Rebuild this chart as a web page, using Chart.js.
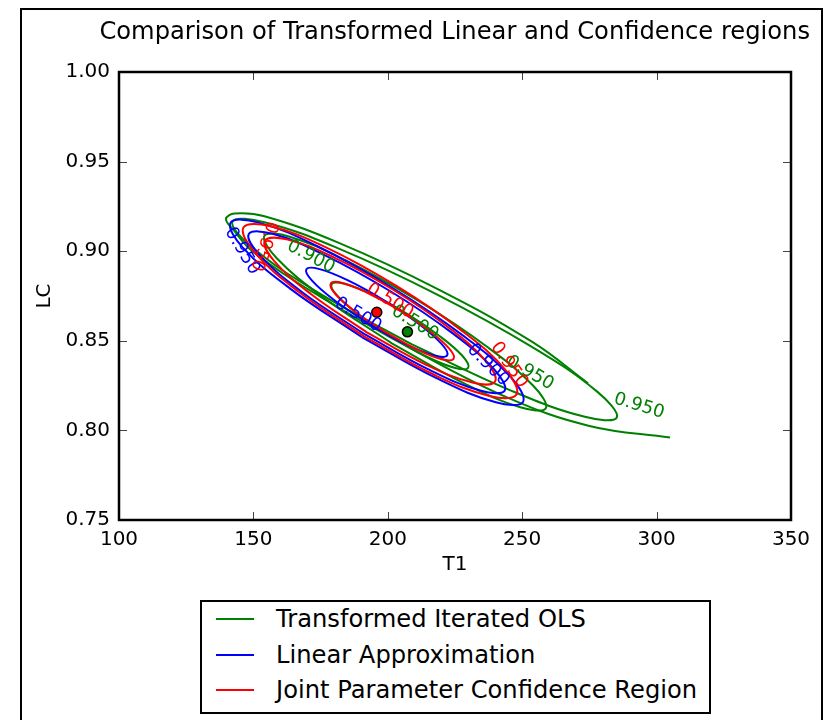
<!DOCTYPE html>
<html>
<head>
  <meta charset="utf-8">
  <title>Comparison of Transformed Linear and Confidence regions</title>
  <style>
    body { margin: 0; background: #fff; font-family: 'DejaVu Sans'; }
    #frame {
      position: absolute; left: 20px; top: 8px;
      width: 803px; height: 730px;
      border: 2px solid #000; box-sizing: border-box;
    }
    #chart { position: absolute; left: 0; top: 0; }
    #legend {
      position: absolute; left: 200px; top: 600px;
      width: 511px; height: 114px;
      border: 2.5px solid #000; box-sizing: border-box;
      background: #fff;
    }
    .row { position: absolute; left: 0; height: 30px; font-size: 24.2px; line-height: 30px; color: #000; }
    .row span.ln { position: absolute; left: 14px; top: 14px; width: 38px; height: 2.5px; }
    .row span.tx { position: absolute; left: 74px; white-space: nowrap; }
  </style>
</head>
<body>
  <div id="frame"></div>
  <canvas id="chart" width="825" height="590"></canvas>
  <div id="legend">
    <div class="row" style="top:1.5px"><span class="ln" style="background:#008000"></span><span class="tx">Transformed Iterated OLS</span></div>
    <div class="row" style="top:37.5px"><span class="ln" style="background:#0000ff"></span><span class="tx">Linear Approximation</span></div>
    <div class="row" style="top:72.5px"><span class="ln" style="background:#ff0000"></span><span class="tx">Joint Parameter Confidence Region</span></div>
  </div>

  <script src="https://cdn.jsdelivr.net/npm/chart.js@4.4.1/dist/chart.umd.min.js"></script>
  <script>
    // contour lines, [T1, LC] pairs
    var green50 = [[201.8,0.8516],[189.5,0.8642],[181.2,0.8752],[179.1,0.8816],[183.9,0.8818],[194.2,0.8757],[207.2,0.8650],[219.5,0.8524],[227.8,0.8415],[229.9,0.8350],[225.1,0.8348],[214.8,0.8409],[201.8,0.8516]];
    var green90 = [[201.5,0.8486],[176.0,0.8742],[158.6,0.8962],[154.1,0.9086],[163.5,0.9081],[184.4,0.8948],[211.3,0.8724],[236.8,0.8468],[254.2,0.8248],[258.8,0.8124],[249.3,0.8129],[228.4,0.8262],[201.5,0.8486]];
    var green95 = [[209.0,0.8480],[173.8,0.8772],[149.4,0.9023],[142.2,0.9166],[154.1,0.9162],[182.0,0.9013],[218.4,0.8758],[253.6,0.8466],[278.0,0.8215],[285.2,0.8072],[273.3,0.8076],[245.4,0.8225],[209.0,0.8480]];
    var greenOuter = [[274.5,0.8263],[253.6,0.8495],[218.4,0.8790],[182.0,0.9045],[154.1,0.9195],[143.0,0.9210],[139.8,0.9180],[142.5,0.9120],[150.0,0.8995],[175.0,0.8745],[210.0,0.8445],[245.0,0.8180],[275.0,0.8025],[305.0,0.7960]];

    var blue50 = [[193.2,0.8592],[180.5,0.8722],[171.9,0.8834],[169.7,0.8899],[174.6,0.8900],[185.2,0.8837],[198.6,0.8726],[211.3,0.8597],[219.9,0.8484],[222.1,0.8419],[217.2,0.8418],[206.6,0.8481],[193.2,0.8592]];
    var blue90 = [[191.0,0.8540],[167.9,0.8774],[152.3,0.8978],[148.3,0.9096],[157.1,0.9097],[176.3,0.8980],[200.8,0.8778],[223.9,0.8544],[239.6,0.8340],[243.5,0.8222],[234.7,0.8221],[215.5,0.8338],[191.0,0.8540]];
    var blue95 = [[190.3,0.8521],[163.8,0.8790],[145.9,0.9023],[141.5,0.9159],[151.6,0.9161],[173.6,0.9029],[201.5,0.8797],[228.0,0.8529],[245.9,0.8295],[250.3,0.8159],[240.2,0.8157],[218.3,0.8290],[190.3,0.8521]];

    var red50 = [[199.1,0.8548],[188.0,0.8661],[180.5,0.8761],[178.8,0.8820],[183.1,0.8823],[192.4,0.8768],[204.1,0.8672],[215.2,0.8559],[222.7,0.8459],[224.5,0.8400],[220.1,0.8397],[210.8,0.8452],[199.1,0.8548]];
    var red90 = [[192.2,0.8547],[171.5,0.8760],[157.6,0.8947],[154.3,0.9059],[162.4,0.9066],[179.9,0.8966],[202.0,0.8785],[222.7,0.8573],[236.6,0.8385],[239.9,0.8273],[231.8,0.8266],[214.3,0.8366],[192.2,0.8547]];
    var red95 = [[191.3,0.8523],[166.7,0.8775],[150.2,0.8998],[146.3,0.9132],[156.0,0.9141],[176.8,0.9023],[202.9,0.8809],[227.5,0.8557],[244.0,0.8334],[247.9,0.8200],[238.2,0.8191],[217.4,0.8309],[191.3,0.8523]];

    // parameter estimates (red = joint region, green = transformed OLS)
    var estT1 = [195.9, 207.3];
    var estLC = [0.8659, 0.855];

    // contour level labels
    var levelText = ['0.900', '0.500', '0.950', '0.950', '0.950', '0.500', '0.900', '0.950', '0.500', '0.950'];
    var levelT1   = [171.4, 210.1, 252.9, 293.5, 145.8, 188.9, 237.3, 153.9, 200.8, 245.1];
    var levelLC   = [0.8968, 0.8599, 0.8320, 0.8136, 0.9001, 0.8644, 0.8365, 0.9029, 0.8722, 0.8365];
    var levelSet  = ['g', 'g', 'g', 'g', 'b', 'b', 'b', 'r', 'r', 'r'];

    var xTicks = [100, 150, 200, 250, 300, 350];
    var yTicks = [0.75, 0.80, 0.85, 0.90, 0.95, 1.00];

    var colors = { g: '#008000', b: '#0000ff', r: '#ff0000' };
    var angles = [28, 31, 30, 17, 59, 31, 45, 109.5, 31, 55];

    function pts(arr) {
      return arr.map(function (p) { return { x: p[0], y: p[1] }; });
    }

    function contour(arr, color, order) {
      return {
        data: pts(arr),
        showLine: true,
        borderColor: color,
        borderWidth: 2,
        pointRadius: 0,
        tension: 0.4,
        fill: false,
        order: order
      };
    }

    var datasets = [
      contour(green50, colors.g, 3), contour(green90, colors.g, 3), contour(green95, colors.g, 3), contour(greenOuter, colors.g, 3),
      contour(blue50, colors.b, 2), contour(blue90, colors.b, 2), contour(blue95, colors.b, 2),
      contour(red50, colors.r, 1), contour(red90, colors.r, 1), contour(red95, colors.r, 1),
      {
        data: estT1.map(function (t, i) { return { x: t, y: estLC[i] }; }),
        showLine: false,
        pointRadius: 5,
        pointBorderWidth: 1.5,
        pointBorderColor: '#000',
        pointBackgroundColor: [colors.r, colors.g],
        order: 0
      }
    ];

    // inline contour labels
    var labelPlugin = {
      id: 'levels',
      afterDatasetsDraw: function (chart) {
        var c = chart.ctx, xs = chart.scales.x, ys = chart.scales.y;
        c.save();
        c.font = '18px "DejaVu Sans"';
        c.textAlign = 'center';
        c.textBaseline = 'middle';
        for (var i = 0; i < levelText.length; i++) {
          c.save();
          c.translate(xs.getPixelForValue(levelT1[i]), ys.getPixelForValue(levelLC[i]));
          c.rotate(angles[i] * Math.PI / 180);
          c.fillStyle = colors[levelSet[i]];
          c.fillText(levelText[i], 0, 0);
          c.restore();
        }
        c.restore();
      }
    };

    // box around the axes and inward ticks on all sides
    var framePlugin = {
      id: 'axesBox',
      afterDraw: function (chart) {
        var c = chart.ctx, a = chart.chartArea, xs = chart.scales.x, ys = chart.scales.y;
        c.save();
        c.strokeStyle = '#444';
        c.lineWidth = 1;
        c.beginPath();
        xTicks.forEach(function (v) {
          var px = Math.round(xs.getPixelForValue(v)) + 0.5;
          c.moveTo(px, a.bottom); c.lineTo(px, a.bottom - 8);
          c.moveTo(px, a.top); c.lineTo(px, a.top + 8);
        });
        yTicks.forEach(function (v) {
          var py = Math.round(ys.getPixelForValue(v)) + 0.5;
          c.moveTo(a.left, py); c.lineTo(a.left + 8, py);
          c.moveTo(a.right, py); c.lineTo(a.right - 8, py);
        });
        c.stroke();
        c.strokeStyle = '#000';
        c.lineWidth = 2.5;
        c.strokeRect(a.left, a.top, a.right - a.left, a.bottom - a.top);
        c.restore();
      }
    };

    var tickFont = { family: 'DejaVu Sans', size: 20 };

    new Chart(document.getElementById('chart').getContext('2d'), {
      type: 'scatter',
      data: { datasets: datasets },
      options: {
        responsive: false,
        animation: false,
        layout: { padding: { left: 0, right: 15, top: 0, bottom: 0 } },
        plugins: {
          legend: { display: false },
          tooltip: { enabled: false },
          title: {
            display: true,
            fullSize: true,
            align: 'end',
            text: 'Comparison of Transformed Linear and Confidence regions',
            color: '#000',
            font: { family: 'DejaVu Sans', size: 24.2, weight: 'normal', lineHeight: 1.2 },
            padding: { top: 18, bottom: 24.96 }
          }
        },
        scales: {
          x: {
            type: 'linear', min: 100, max: 350,
            afterBuildTicks: function (s) { s.ticks = xTicks.map(function (v) { return { value: v }; }); },
            ticks: { color: '#000', font: tickFont, padding: 8 },
            grid: { display: false, drawTicks: false },
            border: { display: false },
            title: { display: true, text: 'T1', color: '#000', font: tickFont, padding: { top: 0, bottom: 13 } },
            afterFit: function (s) { s.height = 70; }
          },
          y: {
            type: 'linear', min: 0.75, max: 1.0,
            afterBuildTicks: function (s) { s.ticks = yTicks.map(function (v) { return { value: v }; }); },
            ticks: { color: '#000', font: tickFont, padding: 9, callback: function (v) { return v.toFixed(2); } },
            grid: { display: false, drawTicks: false },
            border: { display: false },
            title: { display: true, text: 'LC', color: '#000', font: tickFont, padding: { top: 33, bottom: 0 } },
            afterFit: function (s) { s.width = 119; }
          },
          // empty right-hand axis that only reserves the margin beside the plot
          yRight: {
            type: 'linear', position: 'right', min: 0.75, max: 1.0,
            ticks: { display: false },
            grid: { display: false, drawTicks: false },
            border: { display: false },
            afterFit: function (s) { s.width = 19; }
          }
        }
      },
      plugins: [labelPlugin, framePlugin]
    });
  </script>
</body>
</html>
